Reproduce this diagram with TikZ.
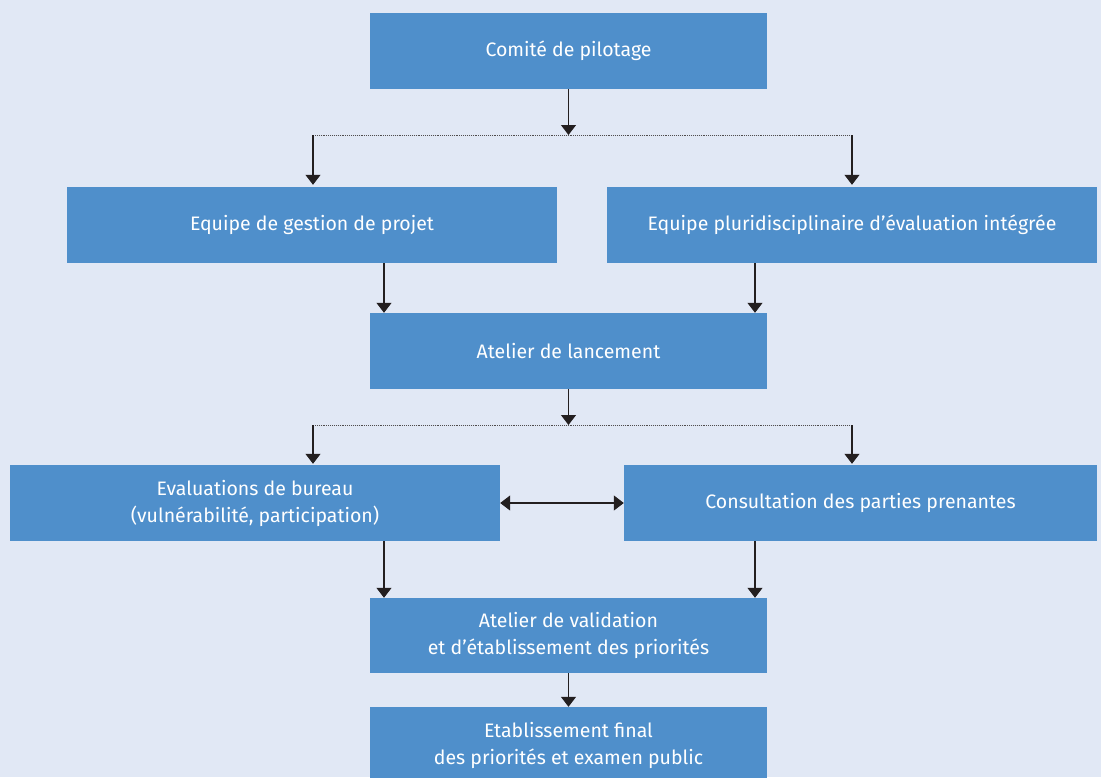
\documentclass[tikz,border=0pt]{standalone}
\usepackage{fontspec}
\setmainfont{Fira Sans}
\usetikzlibrary{arrows.meta,calc}
\definecolor{bg}{HTML}{E1E8F5}
\definecolor{boxblue}{HTML}{4F8FCB}
\definecolor{ink}{HTML}{231F20}
\begin{document}
\begin{tikzpicture}[x=1pt,y=-1pt,
  box/.style={fill=boxblue,draw=none,text=white,align=center,inner sep=0pt,
    minimum height=76pt,font=\fontsize{19.5}{27}\selectfont},
  arr/.style={draw=ink,line width=1.1pt,-{Triangle[width=15pt,length=10pt]}},
  darr/.style={draw=ink,line width=1.1pt,{Triangle[width=15pt,length=10pt]}-{Triangle[width=15pt,length=10pt]}},
  dots/.style={draw=ink!80,line width=0.9pt,densely dotted}]
\fill[bg] (0,0) rectangle (1101,777);
\useasboundingbox (0,0) rectangle (1101,777);
\node[box,minimum width=397pt] (com) at (568.5,51) {Comité de pilotage};
\node[box,minimum width=490pt] (egp) at (312,225) {Equipe de gestion de projet};
\node[box,minimum width=490pt] (epl) at (852,225) {Equipe pluridisciplinaire d’évaluation intégrée};
\node[box,minimum width=397pt] (al) at (568.5,351) {Atelier de lancement};
\node[box,minimum width=490pt] (ev) at (255,503) {Evaluations de bureau\\(vulnérabilité, participation)};
\node[box,minimum width=473pt] (cp) at (860.5,503) {Consultation des parties prenantes};
\node[box,minimum width=397pt,minimum height=75pt] (av) at (568.5,635.5) {Atelier de validation\\et d’établissement des priorités};
\node[box,minimum width=397pt,minimum height=76pt] (ef) at (568.5,745) {Etablissement final\\des priorités et examen public};
% first split
\coordinate (s1m) at (568.5,135);
\coordinate (s1l) at (313,135);
\coordinate (s1r) at (852,135);
\draw[dots] (s1l) -- (s1r);
\draw[arr] (com.south) -- (s1m);
\draw[arr] (s1l) -- ($(s1l |- egp.north)+(0,-2)$);
\draw[arr] (s1r) -- ($(s1r |- epl.north)+(0,-2)$);
% to atelier de lancement
\coordinate (g1) at (384,263);
\coordinate (g2) at (755,263);
\draw[arr] (g1) -- (g1 |- al.north);
\draw[arr] (g2) -- (g2 |- al.north);
% second split
\coordinate (s2m) at (568.5,425);
\coordinate (s2l) at (313,425);
\coordinate (s2r) at (852,425);
\draw[dots] (s2l) -- (s2r);
\draw[arr] (al.south) -- (s2m);
\draw[arr] (s2l) -- ($(s2l |- ev.north)+(0,-1)$);
\draw[arr] (s2r) -- ($(s2r |- cp.north)+(0,-1)$);
\draw[darr] (ev.east) -- (cp.west);
% to validation
\coordinate (h1) at (384,541);
\coordinate (h2) at (755,541);
\draw[arr] (h1) -- (h1 |- av.north);
\draw[arr] (h2) -- (h2 |- av.north);
\draw[arr] (av.south) -- (ef.north);
\end{tikzpicture}
\end{document}
